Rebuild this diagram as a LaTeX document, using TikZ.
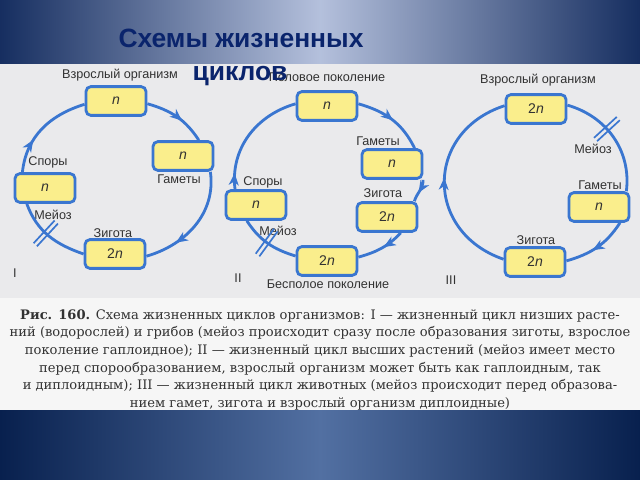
\documentclass[tikz,border=0pt]{standalone}
\usepackage{fontspec}
\setmainfont{Liberation Sans}
\newfontfamily\capfont{DejaVu Serif}
\usetikzlibrary{arrows.meta,decorations.markings}
\definecolor{cycblue}{RGB}{58,118,208}
\definecolor{boxyellow}{RGB}{250,238,140}
\definecolor{titleblue}{RGB}{10,36,108}
\definecolor{banddark}{RGB}{22,46,96}
\definecolor{bandlight}{RGB}{180,192,220}
\definecolor{footdark}{RGB}{8,32,78}
\definecolor{footlight}{RGB}{82,112,162}
\definecolor{paper}{RGB}{234,234,236}
\definecolor{capwhite}{RGB}{246,246,246}
\definecolor{textgray}{RGB}{50,50,50}
\tikzset{
	arrowat/.style={postaction={decorate}, decoration={markings, mark=at position #1 with {\arrow[cycblue]{Stealth[length=8.5pt,width=7pt,inset=2.5pt]}}}},
	meiosisat/.style={postaction={decorate}, decoration={markings, mark=at position #1 with {\draw[cycblue, line width=1.2pt] (-1.6pt,-11pt) -- (-1.6pt,11pt) (1.6pt,-11pt) -- (1.6pt,11pt);}}}
}
\begin{document}
\begin{tikzpicture}[x=0.025cm, y=0.025cm]
	\tikzstyle{stage} = [rectangle, draw=cycblue, line width=2pt, fill=boxyellow, rounded corners=3.5pt, minimum width=1.5cm, minimum height=0.72cm, text=textgray, font=\fontsize{10}{12}\selectfont]
	\tikzstyle{cyc} = [draw=cycblue, line width=2pt]
	\tikzstyle{lbl} = [text=textgray, font=\fontsize{9}{11}\selectfont, inner sep=0pt]
	\tikzstyle{title} = [text=titleblue, font=\fontsize{18.8}{22}\selectfont\bfseries, inner sep=0pt]
	\tikzstyle{caption} = [text=textgray, font=\capfont\fontsize{9.3}{12.6}\selectfont, align=center, inner sep=0pt]
	\useasboundingbox (0,0) rectangle (640,-480);
	\shade[left color=banddark, right color=bandlight] (0,0) rectangle (320,-64);
	\shade[left color=bandlight, right color=banddark] (320,0) rectangle (640,-64);
	\shade[left color=footdark, right color=footlight] (0,-410) rectangle (320,-480);
	\shade[left color=footlight, right color=footdark] (320,-410) rectangle (640,-480);
	\fill[paper] (0,-64) rectangle (640,-298);
	\fill[capwhite] (0,-298) rectangle (640,-410);

	\node[lbl] (adult1) at (120,-75) {Взрослый организм};
	\node[stage] (T1) at (116,-101) {\textit{n}};
	\node[stage] (G1) at (183,-156) {\textit{n}};
	\node[lbl] (gam1) at (179,-179) {Гаметы};
	\node[lbl] (zyg1) at (113,-233) {Зигота};
	\node[stage] (Z1) at (115,-254) {2\textit{n}};
	\node[lbl] (spo1) at (48,-162) {Споры};
	\node[stage] (S1) at (45,-188) {\textit{n}};
	\node[lbl] (mei1) at (53,-215) {Мейоз};
	\node[lbl] (num1) at (15,-273) {I};
	\draw[cyc, arrowat=0.6] (T1.-5) to[out=-16, in=123] (G1.45);
	\draw[cyc, arrowat=0.72] (G1.-30) to[out=-82, in=16] (Z1.-4);
	\draw[cyc, meiosisat=0.55] (Z1.west) to[out=161, in=-70] (S1.-139);
	\draw[cyc, arrowat=0.35] (S1.145) to[out=84, in=197] (T1.186);

	\node[lbl] (sex2) at (327,-77) {Половое поколение};
	\node[stage] (T2) at (327,-106) {\textit{n}};
	\node[lbl] (gam2) at (378,-141) {Гаметы};
	\node[stage] (G2) at (392,-164) {\textit{n}};
	\node[lbl] (zyg2) at (383,-193) {Зигота};
	\node[stage] (Z2) at (387,-217) {2\textit{n}};
	\node[stage] (B2) at (327,-261) {2\textit{n}};
	\node[lbl] (asex2) at (328,-284) {Бесполое поколение};
	\node[lbl] (spo2) at (263,-182) {Споры};
	\node[stage] (S2) at (256,-205) {\textit{n}};
	\node[lbl] (mei2) at (278,-231) {Мейоз};
	\node[lbl] (num2) at (238,-278) {II};
	\draw[cyc, arrowat=0.52] (T2.4) to[out=-16, in=116] (G2.35);
	\draw[cyc, arrowat=0.6] (G2.-27) to[out=-88, in=73] (Z2.30);
	\draw[cyc, arrowat=0.45] (Z2.-49) to[out=-133, in=16] (B2.7);
	\draw[cyc, meiosisat=0.52] (B2.171) to[out=163, in=-57] (S2.-120);
	\draw[cyc, arrowat=0.14] (S2.143) to[out=97, in=196] (T2.176);

	\node[lbl] (adult3) at (538,-80) {Взрослый организм};
	\node[stage] (T3) at (536,-109) {2\textit{n}};
	\node[lbl] (mei3) at (593,-149) {Мейоз};
	\node[lbl] (gam3) at (600,-185) {Гаметы};
	\node[stage] (G3) at (599,-207) {\textit{n}};
	\node[lbl] (zyg3) at (536,-240) {Зигота};
	\node[stage] (Z3) at (535,-262) {2\textit{n}};
	\node[lbl] (num3) at (451,-280) {III};
	\draw[cyc, meiosisat=0.41] (T3.7) to[out=-16, in=83] (G3.30);
	\draw[cyc, arrowat=0.58] (G3.-37) to[out=237, in=16] (Z3.2);
	\draw[cyc, arrowat=0.52, looseness=1.4] (Z3.175) to[out=161, in=198] (T3.174);

	\node[caption, anchor=north] (cap) at (320,-309) {\textbf{Рис. 160.} Схема жизненных циклов организмов: I — жизненный цикл низших расте-\\ний (водорослей) и грибов (мейоз происходит сразу после образования зиготы, взрослое\\поколение гаплоидное); II — жизненный цикл высших растений (мейоз имеет место\\перед спорообразованием, взрослый организм может быть как гаплоидным, так\\и диплоидным); III — жизненный цикл животных (мейоз происходит перед образова-\\нием гамет, зигота и взрослый организм диплоидные)};

	\node[title, anchor=base] (title1) at (241,-47) {Схемы жизненных};
	\node[title, anchor=base] (title2) at (240,-80) {циклов};
\end{tikzpicture}
\end{document}
